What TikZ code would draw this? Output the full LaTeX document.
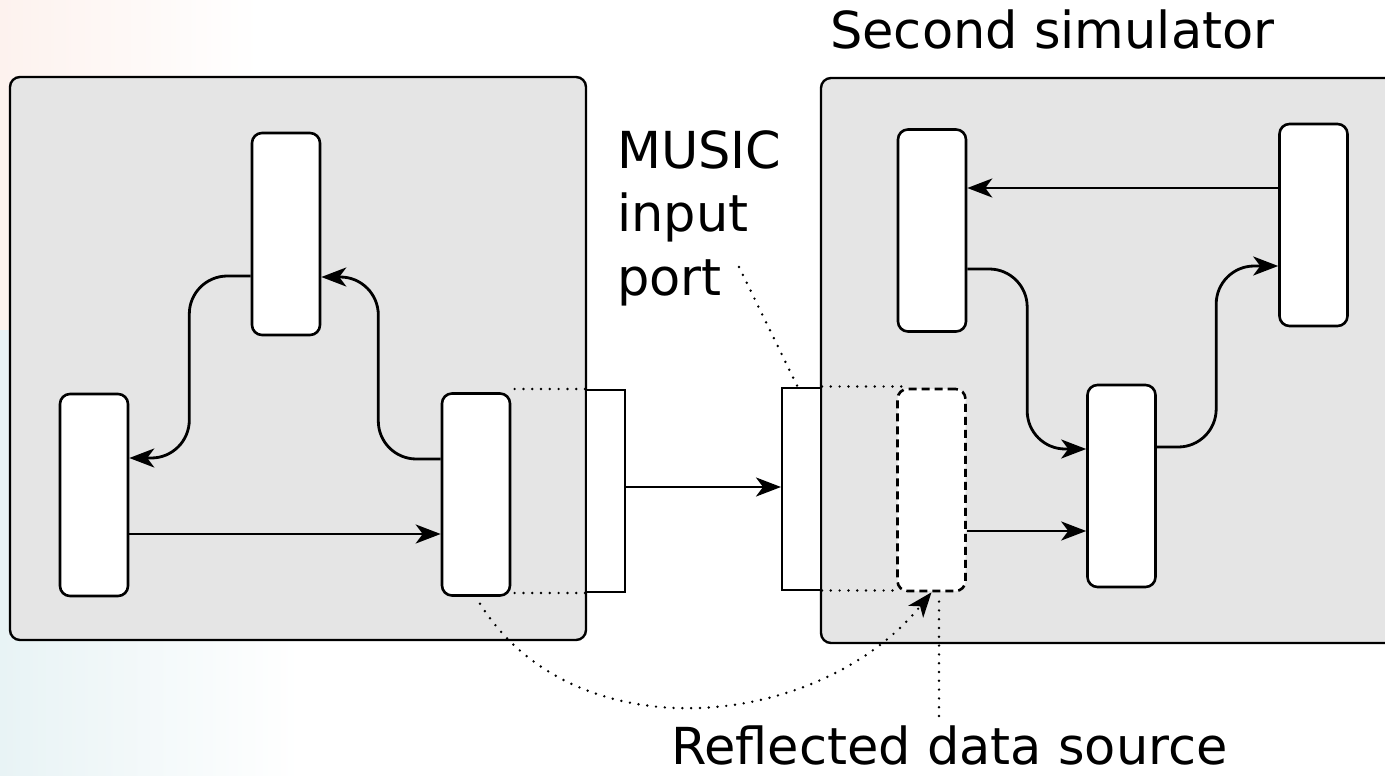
\documentclass[tikz,border=0pt]{standalone}
\usepackage{fontspec}
\setmainfont{DejaVu Sans}
\usetikzlibrary{arrows.meta}
\definecolor{simgray}{HTML}{E5E5E5}
\definecolor{tintpink}{HTML}{FDF2EE}
\definecolor{tintblue}{HTML}{E8F3F5}

\begin{document}
\begin{tikzpicture}[x=1pt,y=-1pt,
  simbox/.style={draw, line width=2.4pt, fill=simgray, rounded corners=10pt},
  unit/.style={draw, line width=2.6pt, fill=white, rounded corners=10pt,
    minimum width=68pt, minimum height=202pt, inner sep=0pt},
  ghost/.style={unit, dash pattern=on 8pt off 5pt},
  portbox/.style={draw, line width=2pt, fill=white,
    minimum width=39pt, minimum height=202pt, inner sep=0pt},
  tipped/.style={-{Stealth[length=25pt,width=19pt,inset=7pt]}},
  flow/.style={line width=2.8pt, tipped},
  elbow/.style={flow, rounded corners=38pt},
  guide/.style={line width=2.7pt, line cap=round, dash pattern=on 0pt off 8.8pt},
  label/.style={font=\fontsize{51}{63.5}\selectfont, inner sep=0pt, align=left}
]
\useasboundingbox (0,0) rectangle (1385,776);
\clip (0,0) rectangle (1385,776);
\fill[white] (0,0) rectangle (1385,776);

% faint tint along the left margin
\fill[left color=tintpink, right color=white] (0,0) rectangle (260,330);
\fill[left color=tintblue, right color=white] (0,330) rectangle (300,776);

% the two simulators
\draw[simbox] (10,77) rectangle (586,640);
\draw[simbox] (821,78) rectangle (1420,643);

% first simulator
\node[unit] (top) at (286,234) {};
\node[unit] (bl)  at (94,495) {};
\node[unit] (br)  at (476,494.5) {};
\node[portbox] (lport) at (605.5,491) {};

% second simulator
\node[unit] (tl)  at (932,230.5) {};
\node[unit] (tr)  at (1313.5,225) {};
\node[unit] (mid) at (1121.5,486) {};
\node[ghost] (refl) at (931.5,490) {};
\node[portbox] (rport) at (801.5,488.5) {};

% connections inside the first simulator
\draw[elbow] ([yshift=-42pt]top.west) -| ([xshift=60pt,yshift=37pt]bl.east)
  -- ([yshift=37pt]bl.east);
\draw[elbow] ([yshift=35.5pt]br.west) -| ([xshift=57pt,yshift=-43pt]top.east)
  -- ([yshift=-43pt]top.east);
\draw[flow] ([yshift=-39pt]bl.east) -- ([yshift=-39pt]bl.east -| br.west);

% link between the simulators
\draw[flow] ([yshift=4pt]lport.east) -- ([yshift=4pt]lport.east -| rport.west);

% connections inside the second simulator
\draw[flow] ([yshift=37pt]tr.west) -- ([yshift=37pt]tr.west -| tl.east);
\draw[elbow] ([yshift=-38.5pt]tl.east) -| ([xshift=-59pt,yshift=37pt]mid.west)
  -- ([yshift=37pt]mid.west);
\draw[elbow] ([yshift=39pt]mid.east) -| ([xshift=-62pt,yshift=-41pt]tr.west)
  -- ([yshift=-41pt]tr.west);
\draw[flow] ([yshift=-41pt]refl.east) -- ([yshift=-41pt]refl.east -| mid.west);

% dotted guides
\coordinate (rtopend) at ([xshift=8pt]refl.north west);
\coordinate (rbotend) at ([xshift=3pt]refl.south west);
\draw[guide] (lport.north west) -- (lport.north west -| br.east);
\draw[guide] (lport.south west) -- (lport.south west -| br.east);
\draw[guide] (rport.north east) -- (rport.north east -| rtopend);
\draw[guide] (rport.south east) -- (rport.south east -| rbotend);
\draw[guide, tipped] ([xshift=4pt,yshift=-7pt]br.south)
  .. controls (575,755) and (820,730) .. (refl.south);

% labels
\node[label, anchor=base west] (second) at (830,49) {Second simulator};
\node[label, anchor=base west] (music) at (617,295) {MUSIC\\input\\port};
\node[label, anchor=base west, text depth=0pt] (reflected) at (671,764) {Reflected data source};

\coordinate (portTail) at (739,267);
\coordinate (reflTail) at (939,716);
\draw[guide] (portTail) -- ([xshift=-4pt]rport.north);
\draw[guide] (reflTail) -- ([yshift=-5pt]reflTail |- refl.south);
\end{tikzpicture}
\end{document}
